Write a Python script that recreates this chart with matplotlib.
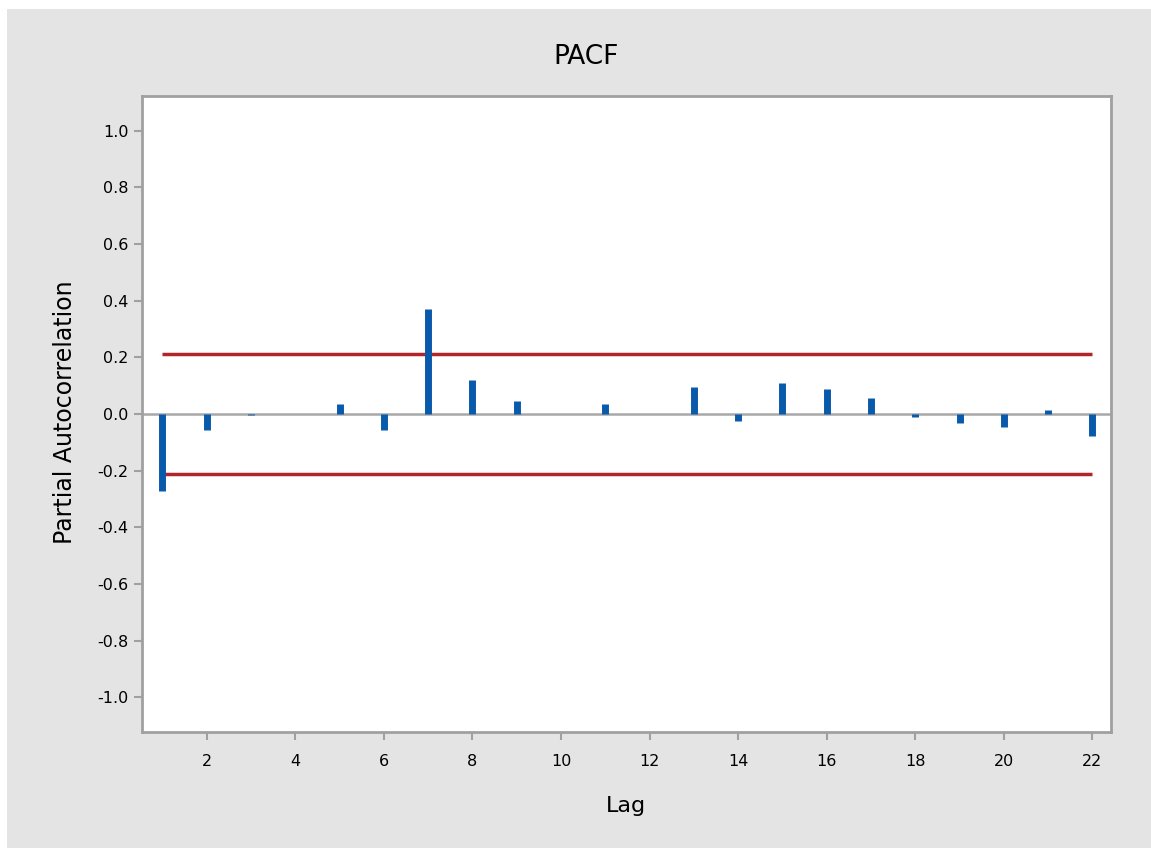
import numpy as np
import matplotlib
matplotlib.use("Agg")
import matplotlib.pyplot as plt
from matplotlib.patches import Rectangle

# PACF values, lags 1..22
lags = np.arange(1, 23)
pacf = [-0.27, -0.055, -0.005, 0.0, 0.035, -0.057, 0.369, 0.12, 0.047, 0.0, 0.035,
        0.0, 0.097, -0.024, 0.109, 0.088, 0.057, -0.012, -0.033, -0.045, 0.014, -0.076]
conf_limit = 0.212
yticks = [-1.0, -0.8, -0.6, -0.4, -0.2, 0.0, 0.2, 0.4, 0.6, 0.8, 1.0]
xticks = [2, 4, 6, 8, 10, 12, 14, 16, 18, 20, 22]

plt.rcParams["font.family"] = ["DejaVu Sans"]

W, H = 1151, 848
fig = plt.figure(figsize=(W / 100, H / 100), dpi=100)
fig.patch.set_facecolor("#e4e4e4")
# thin white margin on top and left of the gray panel
fig.patches.append(Rectangle((0, 1 - 9 / H), 1, 9 / H, transform=fig.transFigure,
                             facecolor="white", edgecolor="none"))
fig.patches.append(Rectangle((0, 0), 7 / W, 1, transform=fig.transFigure,
                             facecolor="white", edgecolor="none"))

ax = fig.add_axes([142 / W, 1 - 732 / H, (1111 - 142) / W, (732 - 96) / H])
ax.set_facecolor("white")

ax.axhline(0, color="#a8a8a8", linewidth=1.8, zorder=1)
ax.vlines(lags, 0, pacf, color="#0a5aab", linewidth=5, zorder=3)
ax.hlines([conf_limit, -conf_limit], lags[0], lags[-1], color="#b0262a", linewidth=2.5, zorder=2)

ax.set_xlim(0.54, 22.42)
ax.set_ylim(-1.122, 1.122)
ax.set_xticks(xticks)
ax.set_yticks(yticks)
ax.set_yticklabels([f"{v:.1f}" for v in yticks])

for s in ax.spines.values():
    s.set_color("#a0a0a0")
    s.set_linewidth(2)
ax.tick_params(axis="both", colors="#a0a0a0", labelcolor="black", length=6, width=1.5,
               labelsize=11.5, direction="out")
ax.tick_params(axis="x", pad=10)

fig.text(586 / W, 1 - 57 / H, "PACF", ha="center", va="center", fontsize=19)
fig.text(626 / W, 1 - 806 / H, "Lag", ha="center", va="center", fontsize=16)
fig.text(65 / W, 1 - 412 / H, "Partial Autocorrelation", ha="center", va="center",
         rotation=90, fontsize=17)

fig.savefig("out.png", dpi=100, facecolor=fig.get_facecolor())
